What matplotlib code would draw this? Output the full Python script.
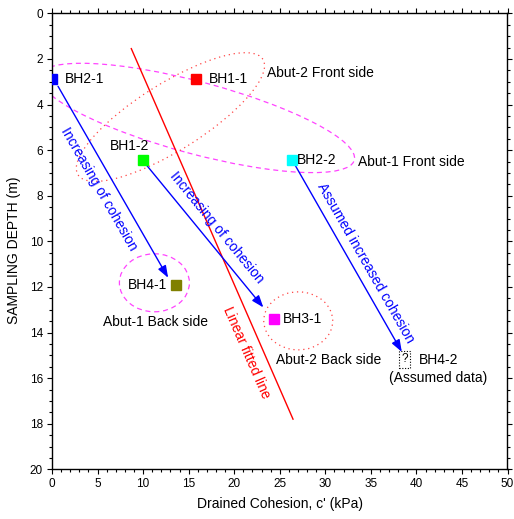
import numpy as np
import matplotlib
matplotlib.use("Agg")
import matplotlib.pyplot as plt
from matplotlib.patches import Ellipse
from matplotlib.transforms import ScaledTranslation

plt.rcParams["font.family"] = ["Liberation Sans", "DejaVu Sans"]

# Measured drained cohesion (kPa) against sampling depth (m)
boreholes = ["BH2-1", "BH1-1", "BH1-2", "BH2-2", "BH4-1", "BH3-1"]
cohesion = [0.0, 15.8, 10.0, 26.3, 13.6, 24.4]
depth = [2.9, 2.9, 6.45, 6.42, 11.9, 13.4]
point_colors = ["#0000ff", "#ff0000", "#00ff00", "#00ffff", "#808000", "#ff00ff"]

# Assumed (not tested) borehole
assumed_name = "BH4-2"
assumed_cohesion = 38.7
assumed_depth = 15.18

# Depth range covered by the fitted trend line
fit_depth_range = [1.55, 17.8]

x_ticks = [0, 5, 10, 15, 20, 25, 30, 35, 40, 45, 50]
y_ticks = [0, 2, 4, 6, 8, 10, 12, 14, 16, 18, 20]

# Trend arrows (cohesion, depth) and their captions
arrow_from = [(0.66, 3.2), (10.4, 6.67), (26.6, 6.6)]
arrow_to = [(12.75, 11.6), (23.2, 12.9), (38.4, 14.85)]
arrow_text = ["Increasing of cohesion", "Increasing of cohesion",
              "Assumed increased cohesion"]
arrow_text_at = [(5.16, 7.72), (18.13, 9.41), (34.4, 10.94)]

# Site zones: centre (cohesion, depth), size in inches, screen angle, style
zone_center = [(15.9, 4.59), (13.0, 4.55), (11.24, 11.82), (27.03, 13.49)]
zone_size = [(3.26, 0.72), (2.18, 0.67), (0.70, 0.58), (0.69, 0.58)]
zone_angle = [-15.0, 32.0, 0.0, 0.0]
zone_color = ["#ff44ff", "#ff4444", "#ff44ff", "#ff4444"]
zone_dash = [(0, (4, 3)), (0, (1, 3)), (0, (4, 3)), (0, (1, 3))]
zone_names = ["Abut-1 Front side", "Abut-2 Front side",
              "Abut-1 Back side", "Abut-2 Back side"]
zone_label_at = [(33.6, 6.52), (23.6, 2.62), (11.37, 13.54), (24.6, 15.19)]
zone_label_ha = ["left", "left", "center", "left"]

# Label offsets for the borehole names (cohesion, depth)
name_at = [(1.43, 2.9), (17.25, 2.9), (6.37, 5.83), (26.9, 6.42),
           (8.38, 11.9), (25.35, 13.42)]

fig = plt.figure(figsize=(5.14, 5.19), dpi=100)
ax = fig.add_axes([52 / 514, 1 - 469.3 / 519, 455.5 / 514, 456 / 519])
ax.set_xlim(0, 50)
ax.set_ylim(20, 0)

FS = 10

# Measured points
for name, c, d, col, (tx, ty) in zip(boreholes, cohesion, depth, point_colors, name_at):
    ax.plot(c, d, marker="s", ms=7.7, color=col, mec=col, ls="none", zorder=5)
    ax.text(tx, ty, name, fontsize=FS, ha="left", va="center", zorder=6)

# Assumed point drawn as dotted box with a question mark
ax.text(assumed_cohesion, assumed_depth, "?", fontsize=8.5, ha="center", va="center",
        bbox=dict(boxstyle="square,pad=0.18", fc="none", ec="black", ls=(0, (1, 1.5)), lw=0.8),
        zorder=6)
ax.text(40.26, 15.19, assumed_name, fontsize=FS, ha="left", va="center")
ax.text(42.36, 16.0, "(Assumed data)", fontsize=FS, ha="center", va="center")

# Linear fit of cohesion against depth
slope, intercept = np.polyfit(depth, cohesion, 1)
fd = np.array(fit_depth_range)
fc = intercept + slope * fd
ax.plot(fc, fd, color="#ff0000", lw=1.0, zorder=3)


def screen_angle(p0, p1):
    a = ax.transData.transform(p0)
    b = ax.transData.transform(p1)
    return np.degrees(np.arctan2(b[1] - a[1], b[0] - a[0]))


fit_ang = screen_angle((fc[0], fd[0]), (fc[1], fd[1]))
ax.text(21.3, 14.9, "Linear fitted line", color="#ff0000", fontsize=FS,
        rotation=fit_ang, rotation_mode="anchor", ha="center", va="center")

# Trend arrows
for p0, p1, txt, at in zip(arrow_from, arrow_to, arrow_text, arrow_text_at):
    ax.annotate("", xy=p1, xytext=p0,
                arrowprops=dict(arrowstyle="-|>,head_length=0.6,head_width=0.22",
                                color="#0000ff", lw=1.0, shrinkA=0, shrinkB=0,
                                mutation_scale=12),
                zorder=4)
    ang = screen_angle(p0, p1)
    ax.text(at[0], at[1], txt, color="#0000ff", fontsize=FS,
            rotation=ang, rotation_mode="anchor", ha="center", va="center")

# Zone outlines
for (cx, cy), (w, h), ang, col, dash, nm, (lx, ly), ha in zip(
        zone_center, zone_size, zone_angle, zone_color, zone_dash,
        zone_names, zone_label_at, zone_label_ha):
    tr = fig.dpi_scale_trans + ScaledTranslation(cx, cy, ax.transData)
    ax.add_patch(Ellipse((0, 0), w, h, angle=ang, transform=tr, fill=False,
                         ec=col, lw=0.9, ls=dash, zorder=2))
    ax.text(lx, ly, nm, fontsize=FS, ha=ha, va="center")

# Axes styling
ax.set_xticks(x_ticks)
ax.set_yticks(y_ticks)
ax.set_xticks(np.arange(0, 50.5, 1), minor=True)
ax.set_yticks(np.arange(0, 20.25, 0.5), minor=True)
ax.tick_params(which="both", direction="out", top=True, right=True,
               labeltop=False, labelright=False, labelsize=8.5, width=0.8)
ax.tick_params(which="major", length=3.6, pad=3)
ax.tick_params(which="minor", length=2.2)
for s in ax.spines.values():
    s.set_linewidth(1.0)

ax.set_xlabel("Drained Cohesion, c' (kPa)", fontsize=FS, labelpad=5)
ax.set_ylabel("SAMPLING DEPTH (m)", fontsize=FS)
ax.yaxis.label.set_va("center")
ax.yaxis.set_label_coords(-0.083, 0.48)

fig.savefig("out.png", dpi=100)
